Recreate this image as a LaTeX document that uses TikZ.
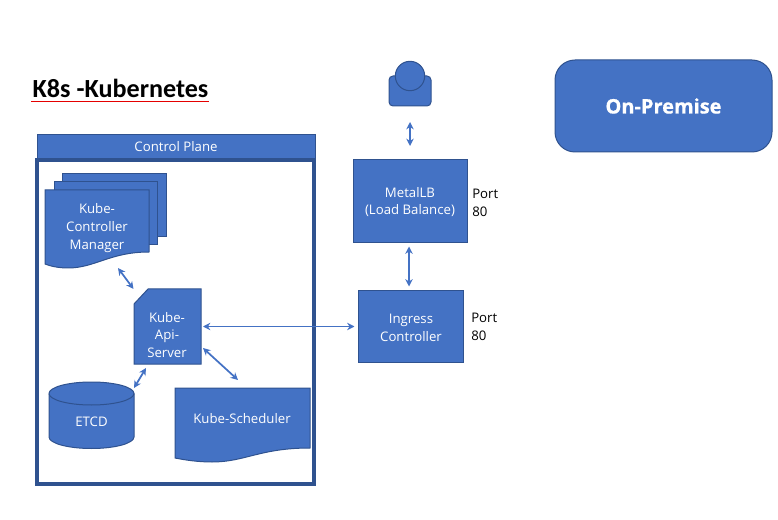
\documentclass[tikz,border=0pt]{standalone}
\usepackage{fontspec}
\setmainfont{Open Sans}
\newfontfamily\titlefont{Carlito}
\newfontfamily\heavyfont[BoldFeatures={FakeBold=0.7}]{Open Sans}
\usetikzlibrary{arrows.meta}
\definecolor{fillblue}{HTML}{4472C4}
\definecolor{edgeblue}{HTML}{2F528F}
\tikzset{
  x=0.75pt,y=-0.75pt,
  shapeblue/.style={fill=fillblue,draw=edgeblue,line width=0.75pt},
  anchorbox/.style={draw=none,fill=none,inner sep=0pt,outer sep=0pt},
  whitetext/.style={text=white,font=\fontsize{9.9}{13.3}\selectfont,align=center,inner sep=0pt},
  blacktext/.style={text=black,font=\fontsize{9.9}{13.3}\selectfont,align=left,inner sep=0pt,anchor=west},
  twoway/.style={draw=fillblue,line width=1.3pt,{Stealth[length=5.5pt,width=5.5pt]}-{Stealth[length=5.5pt,width=5.5pt]}},
}
\begin{document}
\begin{tikzpicture}
\useasboundingbox (0,0) rectangle (778,520);
% title
\node[anchor=center,inner sep=0pt,font=\titlefont\bfseries\fontsize{19.6}{22}\selectfont] (title) at (120.5,88.5) {K8s -Kubernetes};
\coordinate (ulL) at (31,101.3);
\coordinate (ulR) at (209,101.3);
\draw[red!90!black,line width=0.75pt] (ulL) -- (ulR);
% control plane
\node[shapeblue,minimum width=208.5pt,minimum height=18pt,inner sep=0pt,text=white,font=\fontsize{9.9}{13.3}\selectfont] (cp) at (176,146.5) {Control Plane};
\draw[edgeblue,line width=3pt] (37,160) rectangle (314,484);
% controller manager stack
\filldraw[shapeblue] (62,174) rectangle (166,237);
\filldraw[shapeblue] (54,182) rectangle (157,245);
\draw[shapeblue] (45,190) -- (149,190) -- (149,252) .. controls (110,252) and (95,268) .. (68,268) .. controls (58,268) and (50,266) .. (45,264) -- cycle;
\node[anchorbox,minimum width=78pt,minimum height=58.5pt] (ctrl) at (97,229) {};
\node[whitetext] (ctrllabel) at (97,228) {Kube-\\Controller\\Manager};
% api server
\draw[shapeblue] (148,289) -- (201,289) -- (201,364) -- (134,364) -- (134,304) -- cycle;
\node[anchorbox,minimum width=50.25pt,minimum height=56.25pt] (api) at (167.5,326.5) {};
\node[whitetext] (apilabel) at (167,335) {Kube-\\Api-\\Server};
% etcd
\draw[shapeblue] (49,393.5) arc[start angle=180,end angle=360,x radius=42.5,y radius=11.5] -- (134,437) arc[start angle=0,end angle=180,x radius=42.5,y radius=11.5] -- cycle;
\draw[edgeblue,line width=0.75pt] (49,393.5) arc[start angle=180,end angle=0,x radius=42.5,y radius=11.5];
\node[anchorbox,minimum width=63.75pt,minimum height=49.5pt] (etcd) at (91.5,415) {};
\node[whitetext] (etcdlabel) at (91.5,422) {ETCD};
% scheduler
\draw[shapeblue] (175,388) -- (310,388) -- (310,448) .. controls (260,448) and (245,462) .. (212,462) .. controls (198,462) and (185,460) .. (175,458) -- cycle;
\node[anchorbox,minimum width=101.25pt,minimum height=55.5pt] (sched) at (242.5,425) {};
\node[whitetext] (schedlabel) at (242,418.5) {Kube-Scheduler};
% user
\draw[shapeblue,rounded corners=3pt] (389,76) rectangle (431,106);
\draw[shapeblue] (410,76) circle[radius=14.7];
\node[anchorbox,minimum width=31.5pt,minimum height=33.75pt] (user) at (410,83.5) {};
% metallb
\node[shapeblue,minimum width=85.5pt,minimum height=62.25pt,inner sep=0pt] (lb) at (410,201.5) {};
\node[whitetext] (lblabel) at (410,202) {MetalLB\\(Load Balance)};
\node[blacktext] (port1) at (472,203) {Port\\80};
% ingress
\node[shapeblue,minimum width=78.75pt,minimum height=53.25pt,inner sep=0pt] (ing) at (410.5,326.5) {};
\node[whitetext] (inglabel) at (411,328) {Ingress\\Controller};
\node[blacktext] (port2) at (471,327) {Port\\80};
% on-premise
\node[shapeblue,minimum width=162.75pt,minimum height=69pt,rounded corners=15pt,inner sep=0pt,text=white,font=\heavyfont\bfseries\fontsize{15}{17}\selectfont] (onprem) at (663.5,106) {On-Premise};
% connectors
\draw[twoway] ([shift={(21,0)}]ctrl.south) -- ([shift={(-34,-0)}]api.north);
\draw[twoway] ([shift={(2,0)}]api.east) -- ([shift={(-3,0)}]ing.west);
\draw[twoway] ([shift={(2,21.5)}]api.east) -- ([shift={(-4.5,-8)}]sched.north);
\draw[twoway] ([shift={(-21.5,4)}]api.south) -- ([shift={(42.5,6)}]etcd.north);
\draw[twoway] ([shift={(0,16)}]user.south) -- ([shift={(0,-13.5)}]lb.north);
\draw[twoway] ([shift={(-1,3)}]lb.south) -- ([shift={(-1.5,-4)}]ing.north);
\end{tikzpicture}
\end{document}
